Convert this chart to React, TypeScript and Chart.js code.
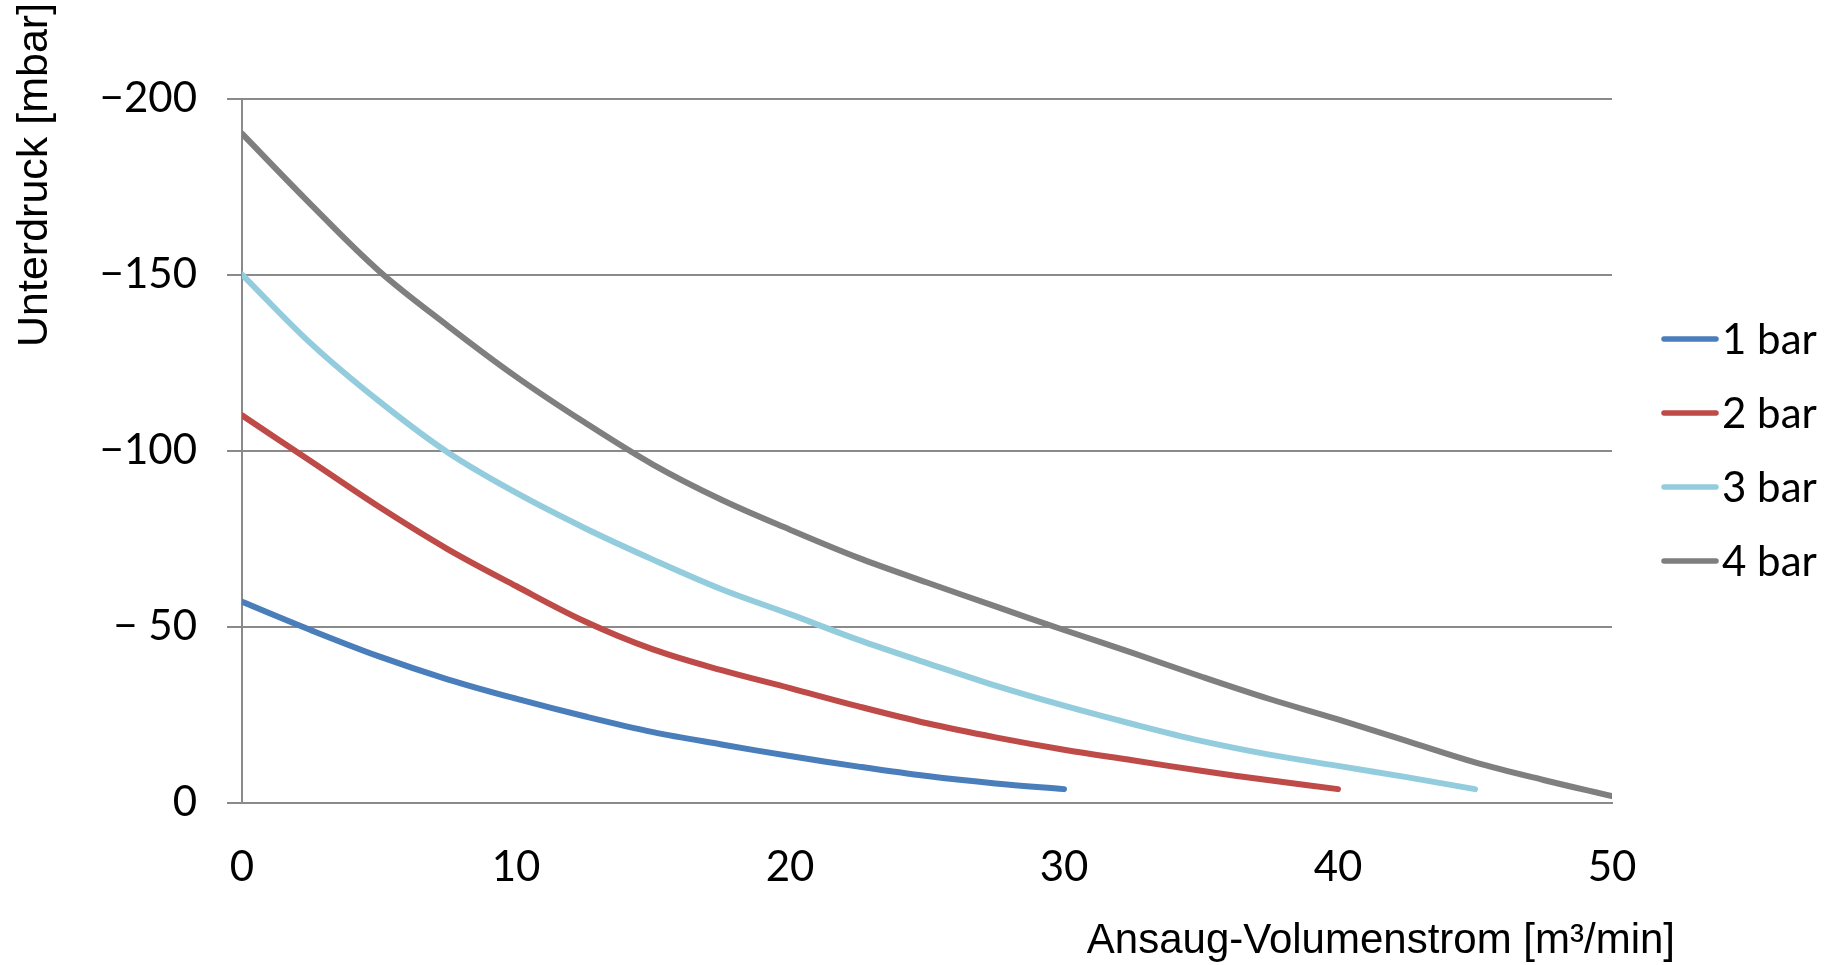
import React, { useEffect, useRef } from "react";
import { Chart, registerables } from "chart.js";

Chart.register(...registerables);

// ---- data ----
const seriesLabels = ["1 bar", "2 bar", "3 bar", "4 bar"];

const x1 = [0, 2.5, 5, 7.5, 10, 12.5, 15, 17.5, 20, 22.5, 25, 27.5, 30];
const y1 = [57, 49, 41.5, 35, 29.5, 24.5, 20, 16.5, 13.2, 10.2, 7.5, 5.4, 3.8];

const x2 = [0, 2.5, 5, 7.5, 10, 12.5, 15, 17.5, 20, 22.5, 25, 27.5, 30, 32.5, 35, 37.5, 40];
const y2 = [110, 97, 84, 72, 61.5, 51.5, 43.5, 37.6, 32.5, 27.3, 22.5, 18.5, 15, 12, 9, 6.3, 3.8];

const x3 = [0, 2.5, 5, 7.5, 10, 12.5, 15, 17.5, 20, 22.5, 25, 27.5, 30, 32.5, 35, 37.5, 40, 42.5, 45];
const y3 = [150, 130.5, 114, 99.5, 88, 78, 69, 60.6, 53.5, 46.2, 39.6, 33.2, 27.5, 22.3, 17.5, 13.6, 10.4, 7.2, 3.8];

const x4 = [0, 2.5, 5, 7.5, 10, 12.5, 15, 17.5, 20, 22.5, 25, 27.5, 30, 32.5, 35, 37.5, 40, 42.5, 45, 47.5, 50];
const y4 = [190, 170, 151, 135.5, 121, 108, 96, 86, 77.5, 69.5, 62.5, 55.7, 49, 42.5, 35.8, 29.4, 23.6, 17.5, 11.4, 6.4, 1.8];

const yTickValues = [0, 50, 100, 150, 200];
const yTickLabels = ["0", "\u2212 50", "\u2212100", "\u2212150", "\u2212200"];

const xAxisTitle = "Ansaug-Volumenstrom [m\u00B3/min]";
const yAxisTitle = "Unterdruck [mbar]";

// ---- styles ----
const colors = ["#4A7EBB", "#BE4B48", "#93CDDD", "#7F7F7F"];
const gridColor = "#8a8a8a";
const tickFont = "Lato";
const titleFont = "\"Liberation Sans\"";

const toPoints = (xs: number[], ys: number[]) => xs.map((x, i) => ({ x, y: ys[i] }));

const overlayPlugin = {
  id: "overlay",
  afterDraw(chart: any) {
    const ctx = chart.ctx as CanvasRenderingContext2D;
    ctx.save();
    // legend
    const ds = chart.data.datasets;
    ds.forEach((d: any, i: number) => {
      const y = 339 + i * 74;
      ctx.strokeStyle = d.borderColor;
      ctx.lineWidth = 5.5;
      ctx.lineCap = "round";
      ctx.beginPath();
      ctx.moveTo(1664, y);
      ctx.lineTo(1716, y);
      ctx.stroke();
      ctx.fillStyle = "#000";
      ctx.font = `42px ${tickFont}`;
      ctx.textAlign = "left";
      ctx.textBaseline = "alphabetic";
      ctx.fillText(d.label, 1722, y + 15);
    });
    // x title
    ctx.fillStyle = "#000";
    ctx.font = `42px ${titleFont}`;
    ctx.textAlign = "right";
    ctx.textBaseline = "alphabetic";
    ctx.fillText(xAxisTitle, 1675, 953);
    // y title
    ctx.translate(47, 347);
    ctx.rotate(-Math.PI / 2);
    ctx.textAlign = "left";
    ctx.font = `43px ${titleFont}`;
    ctx.fillText(yAxisTitle, 0, 0);
    ctx.restore();
  },
};

export default function App() {
  const ref = useRef<HTMLCanvasElement | null>(null);

  useEffect(() => {
    document.body.style.margin = "0";
    const canvas = ref.current;
    if (!canvas) return;
    const datasets = [
      toPoints(x1, y1),
      toPoints(x2, y2),
      toPoints(x3, y3),
      toPoints(x4, y4),
    ].map((data, i) => ({
      label: seriesLabels[i],
      data,
      borderColor: colors[i],
      backgroundColor: colors[i],
      borderWidth: 6,
      borderCapStyle: "round" as const,
      borderJoinStyle: "round" as const,
      pointRadius: 0,
      pointHoverRadius: 0,
      tension: 0.35,
      fill: false,
    }));

    const chart = new Chart(canvas, {
      type: "line",
      data: { datasets },
      plugins: [overlayPlugin],
      options: {
        animation: false,
        responsive: false,
        maintainAspectRatio: false,
        layout: { padding: { left: 0, right: 216, top: 98.5, bottom: 0 } },
        plugins: {
          legend: { display: false },
          tooltip: { enabled: false },
          title: { display: false },
        },
        scales: {
          x: {
            type: "linear",
            min: 0,
            max: 50,
            afterFit: (scale: any) => {
              scale.height = 965 - 802.5;
            },
            ticks: {
              stepSize: 10,
              color: "#000",
              font: { family: tickFont, size: 42 },
              padding: 40,
              maxRotation: 0,
            },
            grid: { display: false, drawTicks: false },
            border: { display: true, color: gridColor, width: 2 },
          },
          y: {
            type: "linear",
            min: 0,
            max: 200,
            afterFit: (scale: any) => {
              scale.width = 242;
            },
            afterBuildTicks: (scale: any) => {
              scale.ticks = yTickValues.map((v) => ({ value: v }));
            },
            ticks: {
              color: "#000",
              font: { family: tickFont, size: 42 },
              padding: 30,
              callback: (v: any) => {
                const idx = yTickValues.indexOf(Number(v));
                return idx >= 0 ? yTickLabels[idx] : "";
              },
            },
            grid: {
              display: true,
              color: gridColor,
              lineWidth: 2,
              drawTicks: true,
              tickLength: 15,
              tickColor: gridColor,
            },
            border: { display: true, color: gridColor, width: 2 },
          },
        },
      },
    });
    return () => chart.destroy();
  }, []);

  return (
    <div style={{ position: "absolute", left: 0, top: 0, width: 1828, height: 965, background: "#fff" }}>
      <canvas ref={ref} width={1828} height={965} style={{ width: 1828, height: 965, display: "block" }} />
    </div>
  );
}
